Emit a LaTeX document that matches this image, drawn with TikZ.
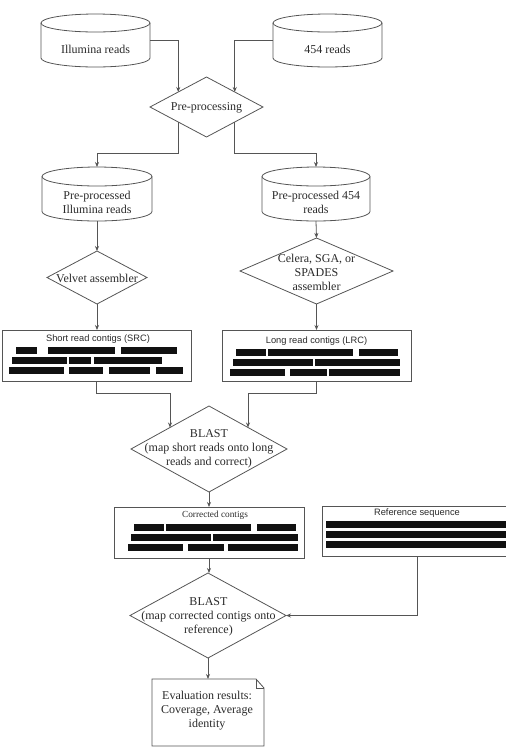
\documentclass[tikz,border=0pt]{standalone}
\usepackage{fontspec}
\setmainfont{Liberation Serif}
\newfontfamily\titlefont{Liberation Sans}
\usetikzlibrary{shapes.geometric,arrows.meta,calc}
\definecolor{lncol}{HTML}{555555}
\definecolor{txcol}{HTML}{2A2A2A}
\definecolor{barcol}{HTML}{111111}
\tikzset{
  ln/.style={draw=lncol,line width=0.8pt},
  arr/.style={lncol,line width=0.8pt,-{Stealth[length=5pt,width=4pt]}},
  hold/.style={rectangle,inner sep=0pt,outer sep=0pt},
  dia/.style={diamond,ln,inner sep=0pt,outer sep=0pt},
  txt/.style={text=txcol,font=\fontsize{12}{14}\selectfont,align=center,inner sep=0pt},
  small/.style={text=txcol,font=\fontsize{9.3}{11}\selectfont,inner sep=0pt},
  sanstitle/.style={text=txcol,font=\titlefont\fontsize{9.3}{11}\selectfont,inner sep=0pt},
  contigbox/.style={rectangle,ln,inner sep=0pt,outer sep=0pt},
  bar/.style={fill=barcol,draw=none}
}
% cylinder: L T R B ry (pixel coords, y downward)
\newcommand\mycyl[5]{%
  \draw[ln] (#1,-#2-#5) -- (#1,-#4+#5)
     arc[start angle=180,end angle=360,x radius={(#3-#1)/2},y radius=#5]
     -- (#3,-#2-#5);
  \draw[ln] ({(#1+#3)/2},-#2-#5) ellipse[x radius={(#3-#1)/2},y radius=#5];
}
% bar: x1 x2 y1 y2
\newcommand\mybar[4]{\fill[bar] (#1,-#3) rectangle (#2,-#4);}
\begin{document}
\begin{tikzpicture}[x=1pt,y=1pt]
\useasboundingbox (0,0) rectangle (506,-748);

% ---- cylinders
\mycyl{41}{14}{150}{67}{9}
\node[hold,minimum width=109pt,minimum height=53pt] (illum) at (95.5,-40.5) {};
\node[txt] (illumt) at (95.5,-49) {Illumina reads};

\mycyl{273}{14}{382}{67}{9}
\node[hold,minimum width=109pt,minimum height=53pt] (r454) at (327.5,-40.5) {};
\node[txt] (r454t) at (327.5,-49) {454 reads};

\mycyl{42}{167}{152}{221}{9.5}
\node[hold,minimum width=110pt,minimum height=54pt] (ppi) at (97,-194) {};
\node[txt] (ppit) at (97,-202) {Pre-processed\\Illumina reads};

\mycyl{262}{167}{370}{221}{9.5}
\node[hold,minimum width=108pt,minimum height=54pt] (pp454) at (316,-194) {};
\node[txt] (pp454t) at (316,-202) {Pre-processed 454\\reads};

% ---- diamonds
\node[dia,minimum width=113pt,minimum height=60pt] (pre) at (206.5,-107) {};
\node[txt] (pret) at (206.5,-108) {Pre-processing};

\node[dia,minimum width=100pt,minimum height=53pt] (velvet) at (97,-277.5) {};
\node[txt] (velvett) at (97,-278) {Velvet assembler};

\node[dia,minimum width=153pt,minimum height=66pt] (celera) at (316.5,-271) {};
\node[txt] (celerat) at (316.5,-272) {Celera, SGA, or\\SPADES\\assembler};

\node[dia,minimum width=156pt,minimum height=86pt] (blast1) at (209,-449) {};
\node[txt] (blast1t) at (209,-449) {BLAST\\(map short reads onto long\\reads and correct)};

\node[dia,minimum width=156pt,minimum height=85pt] (blast2) at (208,-615.5) {};
\node[txt] (blast2t) at (208.5,-617) {BLAST\\(map corrected contigs onto\\reference)};

% ---- contig boxes
\node[contigbox,minimum width=189pt,minimum height=51pt] (src) at (96.5,-355.5) {};
\node[sanstitle] (srct) at (98,-339) {Short read contigs (SRC)};
\mybar{16}{37}{347}{354}\mybar{48}{115}{347}{354}\mybar{121}{177}{347}{354}
\mybar{12}{37.7}{357}{364}\mybar{38.3}{67}{357}{364}\mybar{69}{91}{357}{364}\mybar{94}{162}{357}{364}
\mybar{9}{64}{367}{374}\mybar{69}{103}{367}{374}\mybar{109}{150}{367}{374}\mybar{156}{183}{367}{374}

\node[contigbox,minimum width=189pt,minimum height=51pt] (lrc) at (316.5,-355.5) {};
\node[sanstitle] (lrct) at (316.5,-341) {Long read contigs (LRC)};
\mybar{236}{266}{349}{356}\mybar{268}{353}{349}{356}\mybar{359}{398}{349}{356}
\mybar{233}{313}{359}{366}\mybar{315}{400}{359}{366}
\mybar{230}{285}{369}{376}\mybar{290}{327}{369}{376}\mybar{329}{400}{369}{376}

\node[contigbox,minimum width=190pt,minimum height=51pt] (corr) at (209,-532.5) {};
\node[small] (corrt) at (215,-515) {Corrected contigs};
\mybar{134}{164}{524}{531}\mybar{166}{251}{524}{531}\mybar{257}{296}{524}{531}
\mybar{131}{211}{534}{541}\mybar{213}{298}{534}{541}
\mybar{128}{183}{544}{551}\mybar{188}{224}{544}{551}\mybar{228}{298}{544}{551}

\node[contigbox,minimum width=190pt,minimum height=50pt] (ref) at (417,-531) {};
\node[sanstitle] (reft) at (417,-513) {Reference sequence};
\mybar{326}{520}{521}{528}
\mybar{326}{520}{531}{537.5}
\mybar{326}{520}{541}{548}

% ---- evaluation document
\node[hold,minimum width=112pt,minimum height=67pt] (eval) at (208,-712.5) {};
\draw[ln] (eval.south west) -- (eval.north west) -- ($(eval.north east)+(-8,0)$)
  -- ($(eval.north east)+(0,-9)$) -- (eval.south east) -- cycle;
\draw[ln] ($(eval.north east)+(-8,0)$) -- ($(eval.north east)+(-8,-9)$) -- ($(eval.north east)+(0,-9)$);
\node[txt] (evalt) at (207,-710.5) {Evaluation results:\\Coverage, Average\\identity};

% ---- connectors
\draw[arr] (illum.east) -| (pre.north west);
\draw[arr] (r454.west) -| (pre.north east);
\draw[arr] (pre.south west) -- ++(0,-31) -| (ppi.north);
\draw[arr] (pre.south east) -- ++(0,-31) -| (pp454.north);
\draw[arr] (ppi.south) -- (velvet.north);
\draw[arr] (pp454.south) -- (celera.north);
\draw[arr] (velvet.south) -- (velvet.south |- src.north);
\draw[arr] (celera.south) -- (celera.south |- lrc.north);
\draw[arr] (src.south) -- ++(0,-12) -| (blast1.north west);
\draw[arr] (lrc.south) -- ++(0,-12) -| (blast1.north east);
\draw[arr] (blast1.south) -- (blast1.south |- corr.north);
\draw[arr] (corr.south) -- (corr.south |- blast2.north);
\draw[arr] (ref.south) |- (blast2.east);
\draw[arr] (blast2.south) -- (blast2.south |- eval.north);
\end{tikzpicture}
\end{document}
